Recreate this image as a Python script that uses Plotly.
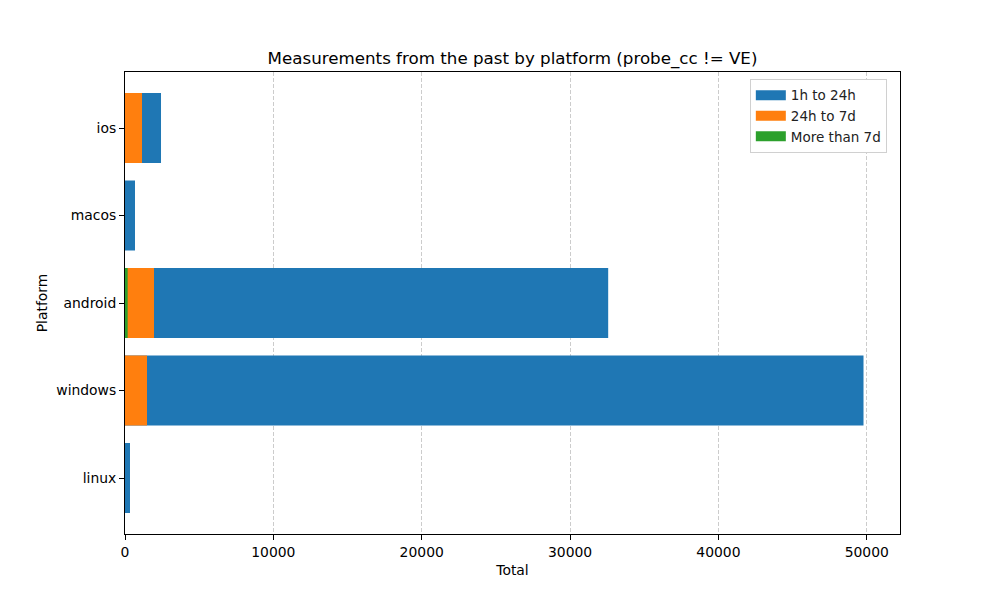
import plotly.graph_objects as go

platforms = ['linux', 'windows', 'android', 'macos', 'ios']
h1_to_24h = [337, 49780, 32570, 674, 2427]
h24_to_7d = [0, 1483, 1955, 0, 1146]
more_than_7d = [0, 0, 180, 0, 0]

series = [
    ('1h to 24h', h1_to_24h, '#1f77b4'),
    ('24h to 7d', h24_to_7d, '#ff7f0e'),
    ('More than 7d', more_than_7d, '#2ca02c'),
]

fig = go.Figure()

# bars are drawn on top of each other, not stacked
for name, vals, color in series:
    fig.add_trace(go.Bar(
        x=vals, y=platforms, orientation='h', width=0.8,
        marker=dict(color=color, line=dict(width=0)),
        name=name, showlegend=False,
    ))

# wide legend patches like matplotlib
for name, vals, color in series:
    fig.add_trace(go.Scatter(
        x=[None], y=[None], mode='lines',
        line=dict(color=color, width=10),
        name=name,
    ))

# page has an 8px body margin, so the figure is a bit smaller
fig.update_layout(
    width=992, height=592,
    barmode='overlay',
    plot_bgcolor='white', paper_bgcolor='white',
    font=dict(family='DejaVu Sans', size=14, color='black'),
    margin=dict(l=117, r=100, t=64, b=66),
    title=dict(
        text='Measurements from the past by platform (probe_cc != VE)',
        x=0.5, xref='paper', xanchor='center',
        y=1 - 50 / 592, yref='container', yanchor='middle',
        font=dict(size=16.7, color='black'),
    ),
    legend=dict(
        x=0.983, y=0.985, xanchor='right', yanchor='top',
        bgcolor='white', bordercolor='#d0d0d0', borderwidth=1,
        font=dict(size=13.5, color='#222222'),
        tracegroupgap=0,
    ),
)

fig.update_xaxes(
    range=[0, 52240],
    tickvals=[0, 10000, 20000, 30000, 40000, 50000],
    tickformat='d',
    ticks='outside', ticklen=5, tickcolor='black',
    tickfont=dict(size=13.9),
    showline=True, linecolor='black', linewidth=1, mirror=True,
    showgrid=True, gridcolor='#cccccc', griddash='4px,2px', gridwidth=1,
    zeroline=False,
    title=dict(text='Total', font=dict(size=13.9), standoff=6),
)

fig.update_yaxes(
    categoryorder='array', categoryarray=platforms,
    range=[-0.64, 4.64],
    ticks='outside', ticklen=5, tickcolor='black',
    tickfont=dict(size=13.9),
    showline=True, linecolor='black', linewidth=1, mirror=True,
    showgrid=False, zeroline=False,
    title=dict(text='Platform', font=dict(size=13.9), standoff=5),
)

fig.write_html('out.html')
